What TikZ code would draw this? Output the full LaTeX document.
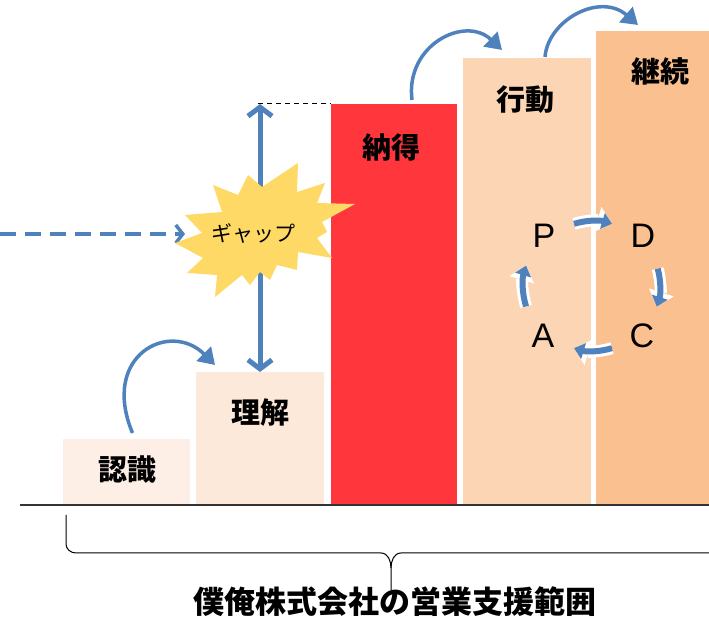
\documentclass[tikz,border=0pt]{standalone}
\usepackage{fontspec}
\newfontfamily\jp{Noto Sans CJK JP}
\setsansfont{Liberation Sans}
\usetikzlibrary{arrows.meta, positioning}

\definecolor{arrowblue}{HTML}{4F81BD}
\definecolor{barA}{HTML}{FDEFE5}
\definecolor{barB}{HTML}{FDE9D9}
\definecolor{barC}{HTML}{FF373C}
\definecolor{barD}{HTML}{FCD5B4}
\definecolor{barE}{HTML}{FAC090}
\definecolor{gapyellow}{HTML}{FFD966}

\begin{document}
\begin{tikzpicture}[x=1pt, y=1pt, >={Triangle[length=16pt, width=20pt]},
    bar/.style={anchor=south west, inner sep=0pt, outer sep=0pt},
    lbl/.style={font=\jp\bfseries\fontsize{29}{29}\selectfont},
    pdca/.style={font=\sffamily\fontsize{34}{34}\selectfont},
    hop/.style={->, arrowblue, line width=3.5pt},
    cyc/.style={-{Triangle[length=10pt, width=16pt]}, arrowblue, line width=6pt},
    cycbg/.style={-{Triangle[length=15pt, width=25pt]}, white, line width=12pt}]
    \useasboundingbox (0,0) rectangle (709,618);

    % Bars
    \node[bar, fill=barA, minimum width=127pt, minimum height=66pt] (ninshiki) at (63,113) {};
    \node[bar, fill=barB, minimum width=128pt, minimum height=133pt] (rikai) at (196,113) {};
    \node[bar, fill=barC, minimum width=126pt, minimum height=401pt] (nattoku) at (331,113) {};
    \node[bar, fill=barD, minimum width=128pt, minimum height=447pt] (koudou) at (463,113) {};
    \node[bar, fill=barE, minimum width=113pt, minimum height=474pt] (keizoku) at (596,113) {};
    \draw[line width=1.5pt, black!80] (20,113) -- (709,113);

    % Labels
    \node[lbl] (l1) at (127,148) {認識};
    \node[lbl] (l2) at (260,206) {理解};
    \node[lbl] (l3) at (391,471) {納得};
    \node[lbl] (l4) at (525,518) {行動};
    \node[lbl] (l5) at (660,547) {継続};

    % Steps
    \draw[hop] ([shift={(6,6)}]ninshiki.north) .. controls (100,263) and (170,298) .. ([shift={(19,7)}]rikai.north west);
    \draw[hop] ([shift={(81,4)}]nattoku.north west) .. controls (405,573) and (465,603) .. ([shift={(39,8)}]koudou.north west);
    \draw[hop] ([shift={(82,1)}]koudou.north west) .. controls (548,598) and (600,626) .. ([shift={(42,6)}]keizoku.north west);

    % Gap
    \coordinate (top) at (rikai.north |- nattoku.north);
    \coordinate (from) at (0,384);
    \coordinate (into) at (185,384);
    \draw[dash pattern=on 5pt off 4pt, line width=1pt] ([xshift=-2pt]top) -- (nattoku.north west);
    \draw[{Straight Barb[length=9pt, width=24pt]}-{Straight Barb[length=9pt, width=24pt]}, arrowblue, line width=5pt] (top) -- (rikai.north);
    \draw[-{Straight Barb[length=7pt, width=18pt]}, arrowblue, line width=3.5pt, dash pattern=on 16pt off 9pt] (from) -- (into);
    \fill[gapyellow] plot coordinates {(213,433) (238,423) (248,443) (262,431) (298,455) (297,426)
        (325,435) (317,415) (355,414) (322,396) (327,386) (317,380) (332,360) (298,366)
        (297,348) (277,353) (270,338) (260,346) (250,333) (242,343) (215,321) (217,343)
        (187,345) (203,360) (175,375) (202,385) (185,403) (222,406)} -- cycle;
    \node[font=\jp\fontsize{21}{21}\selectfont] (gap) at (253,384) {ギャップ};

    % PDCA
    \coordinate (c) at (593,332);
    \node[pdca] (p) at (544,382) {P};
    \node[pdca] (d) at (643,382) {D};
    \node[pdca] (a) at (543,282) {A};
    \node[pdca] (cc) at (642,282) {C};
    \foreach \s/\e/\r in {107/73/65, 15/-18/67, -73/-107/65, 197/163/70} {
        \draw[cycbg] ([shift={(\s:\r pt)}]c) arc[start angle=\s, end angle=\e, radius=\r pt];
        \draw[cyc] ([shift={(\s:\r pt)}]c) arc[start angle=\s, end angle=\e, radius=\r pt];
    }

    % Range
    \draw[line width=1pt] (66,103) -- (66,74) to[out=-90, in=180] (76,65) -- (381,65)
        to[out=0, in=90] (391,50) -- (391,28);
    \draw[line width=1pt] (391,50) to[out=90, in=180] (401,65) -- (709,65);
    \node[font=\jp\bfseries\fontsize{31}{31}\selectfont] (range) at (395,16) {僕俺株式会社の営業支援範囲};
\end{tikzpicture}
\end{document}
